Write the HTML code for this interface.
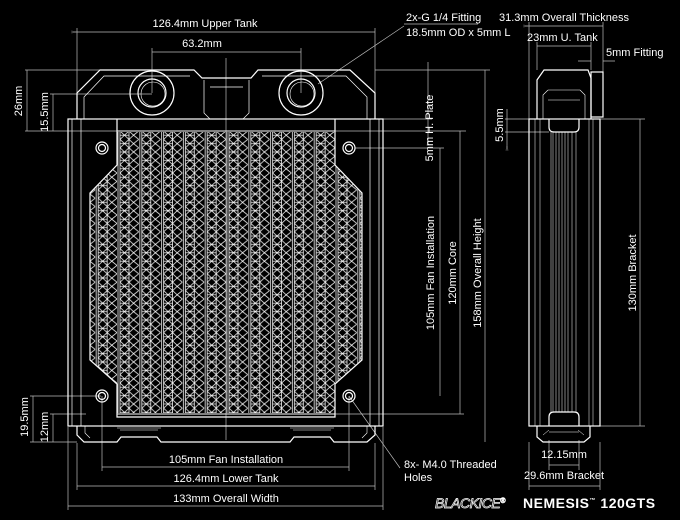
<!DOCTYPE html>
<html><head><meta charset="utf-8"><style>
html,body{margin:0;padding:0;background:#000;}
svg{display:block}
text{font-family:"Liberation Sans",sans-serif;font-size:11px;fill:#fff}
</style></head><body>
<svg width="680" height="520" viewBox="0 0 680 520" xmlns="http://www.w3.org/2000/svg">
<defs>
<pattern id="fin" x="117" y="131" width="21.8" height="8.4" patternUnits="userSpaceOnUse">
<path d="M1,0V8.4M3,0V8.4M12,0V8.4M3,0L7.5,4.2L3,8.4M12,0L7.5,4.2L12,8.4M12,0L16.5,4.2L12,8.4M21.8,0L16.5,4.2L21.8,8.4M3,4.2H12" stroke="#f0f0f0" stroke-width="0.8" fill="none"/>
</pattern>
<marker id="a" markerWidth="8" markerHeight="4" refX="0" refY="2" orient="auto-start-reverse"><path d="M0,2L8,0.5L8,3.5Z" fill="none" stroke="#bbb" stroke-width="0.6"/></marker>
</defs>

<g fill="none" stroke="#bbb" stroke-width="0.7">
<path d="M77,28V95M375,28V119M152,48V93M301,48V93M25,70H104M25,131H117M50,94H152M30,396H101M50,414H86M30,442H77"/>
<path d="M68,427V510M383,427V510M77,443V490M375,443V490M102,396V471M349,396V471"/>
<path d="M383,119H432M335,131H466M355,148H444M335,414H464M375,70H490M226,58V440" />
<path d="M77,32H375M152,52H301M27,70V131M53,94V131M33,396V442M53,414V442M102,467H349M77,486H375M68,506H383M440,148V396M460,131V414M485,70V442M428,62V140" marker-start="url(#a)" marker-end="url(#a)"/>
<path d="M404,24H478M404,26L318,84M349,396L400,468"/>
</g>

<g fill="none" stroke="#fff" stroke-width="1.2">
<rect x="68" y="119" width="315" height="307"/>
<path d="M72,119V426M81,119V426M370,119V426M379,119V426" stroke-width="0.7"/>
<path d="M77,119V93L100,70H194L202,78H251L258,70H350L375,93V119"/>
<path d="M84,119V97L104,76H190M262,76H346L367,97V119M204,80V113L210,119M249,80V113L243,119M210,87H243" stroke-width="0.7"/>
<circle cx="152" cy="93" r="22"/><circle cx="152" cy="93" r="14"/><circle cx="153" cy="94" r="12" stroke-width="0.6"/>
<circle cx="301" cy="93" r="22"/><circle cx="301" cy="93" r="14"/><circle cx="302" cy="94" r="12" stroke-width="0.6"/>
<path d="M117,119V165L90,193V360L117,384V417H335V384L362,360V193L335,165V119"/>
<path d="M117,131H335M117,414H335" stroke-width="0.9"/>
<circle cx="102" cy="148" r="6"/><circle cx="102" cy="148" r="3.5"/>
<circle cx="349" cy="148" r="6"/><circle cx="349" cy="148" r="3.5"/>
<circle cx="102" cy="396" r="6"/><circle cx="102" cy="396" r="3.5"/>
<circle cx="349" cy="396" r="6"/><circle cx="349" cy="396" r="3.5"/>
<path d="M77,426V435L84,442H117L121,437H157L161,442H290L294,437H330L334,442H367L375,435V426"/>
<path d="M85,426V433L90,438M367,426V433L362,438M117,428H161M290,428H334M120,430H158M293,430H331" stroke-width="0.6"/>
</g>
<path d="M117,132H335V165L362,193V360L335,384V413H117V384L90,360V193L117,165Z" fill="url(#fin)"/>

<g fill="none" stroke="#bbb" stroke-width="0.7">
<path d="M529,22V119M603,22V72M537,42V70M591,42V70M505,119H530M505,132H549M600,119H645M600,426H645M549,440V470M579,440V470M529,442V490M600,442V490"/>
<path d="M529,26H603M537,46H591M549,465H579M529,486H600M640,119V426M507,109V145" marker-start="url(#a)" marker-end="url(#a)"/>
<path d="M578,61H591M603,61H615"/>
</g>
<g fill="none" stroke="#fff" stroke-width="1.2">
<path d="M537,119V80L544,70H588L591,78V119"/>
<rect x="591" y="72" width="12" height="45"/>
<path d="M543,119V95L548,90M585,119V95L580,90M548,90H580M548,100H580" stroke-width="0.6"/>
<rect x="529" y="119" width="71" height="307"/>
<path d="M549,119V127Q549,132 554,132H574Q579,132 579,127V119"/>
<path d="M549,426V417Q549,412 554,412H574Q579,412 579,417V426"/>
<path d="M537,426V437L543,442H584L590,437V426"/>
<path d="M535,119V426M540,119V426M551,132V412M553,132V412M556,132V412M559,132V412M562,132V412M565,132V412M568,132V412M572,132V412M576,132V412M589,119V426M593,119V426M549,432H579M543,435L549,430M584,435L578,430" stroke-width="0.5"/>
</g>

<text x="205" y="27" text-anchor="middle">126.4mm Upper Tank</text>
<text x="202" y="47" text-anchor="middle">63.2mm</text>
<text x="406" y="21">2x-G 1/4 Fitting</text>
<text x="406" y="36">18.5mm OD x 5mm L</text>
<text x="499" y="21">31.3mm Overall Thickness</text>
<text x="527" y="41">23mm U. Tank</text>
<text x="606" y="56">5mm Fitting</text>
<text transform="translate(22,101) rotate(-90)" text-anchor="middle">26mm</text>
<text transform="translate(48,112) rotate(-90)" text-anchor="middle">15.5mm</text>
<text transform="translate(28,417) rotate(-90)" text-anchor="middle">19.5mm</text>
<text transform="translate(48,427) rotate(-90)" text-anchor="middle">12mm</text>
<text transform="translate(433,128) rotate(-90)" text-anchor="middle">5mm H. Plate</text>
<text transform="translate(434,273) rotate(-90)" text-anchor="middle">105mm Fan Installation</text>
<text transform="translate(456,273) rotate(-90)" text-anchor="middle">120mm Core</text>
<text transform="translate(481,273) rotate(-90)" text-anchor="middle">158mm Overall Height</text>
<text transform="translate(503,125) rotate(-90)" text-anchor="middle">5.5mm</text>
<text transform="translate(636,273) rotate(-90)" text-anchor="middle">130mm Bracket</text>
<text x="226" y="463" text-anchor="middle">105mm Fan Installation</text>
<text x="226" y="482" text-anchor="middle">126.4mm Lower Tank</text>
<text x="226" y="502" text-anchor="middle">133mm Overall Width</text>
<text x="404" y="468">8x- M4.0 Threaded</text>
<text x="404" y="481">Holes</text>
<text x="564" y="458" text-anchor="middle">12.15mm</text>
<text x="564" y="479" text-anchor="middle">29.6mm Bracket</text>
<text x="435" y="508" style="font-size:14px;font-style:italic;fill:none;stroke:#fff;stroke-width:0.7;letter-spacing:-0.5px">BLACKICE<tspan style="font-size:7px" dy="-5">®</tspan></text>
<text x="523" y="508" style="font-size:14px;font-weight:bold;letter-spacing:0.5px">NEMESIS<tspan style="font-size:6px" dy="-6">™</tspan><tspan dy="6"> 120GTS</tspan></text>
</svg>
</body></html>
